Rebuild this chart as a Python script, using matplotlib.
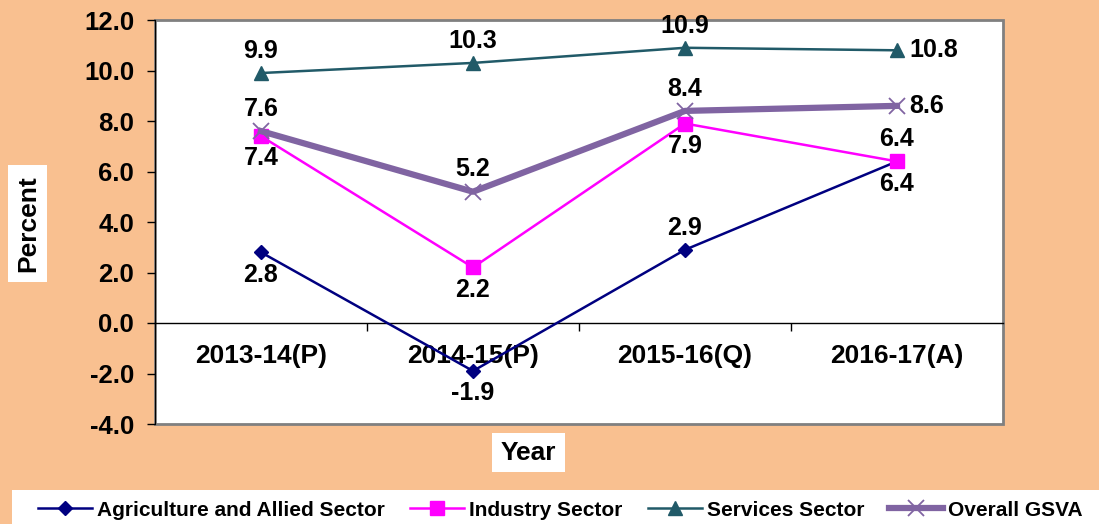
import matplotlib
matplotlib.use('Agg')
import matplotlib.pyplot as plt
from matplotlib.patches import Rectangle

# 数据
years = ['2013-14(P)', '2014-15(P)', '2015-16(Q)', '2016-17(A)']
agri = [2.8, -1.9, 2.9, 6.4]
industry = [7.4, 2.2, 7.9, 6.4]
services = [9.9, 10.3, 10.9, 10.8]
gsva = [7.6, 5.2, 8.4, 8.6]

# 标签位置: 'a' 上方, 'b' 下方, 'r' 右侧
agri_pos = ['b', 'b', 'a', 'b']
industry_pos = ['b', 'b', 'b', 'a']
services_pos = ['a', 'a', 'a', 'r']
gsva_pos = ['a', 'a', 'a', 'r']

plt.rcParams['font.family'] = ['Liberation Sans', 'DejaVu Sans']
plt.rcParams['font.weight'] = 'bold'

W, H = 1099, 524
bg = '#F9C090'
fig = plt.figure(figsize=(W / 100, H / 100), dpi=100, facecolor=bg)
ax = fig.add_axes([155 / W, 1 - 424 / H, 848 / W, 404 / H])
ax.set_facecolor('white')

x = list(range(len(years)))
series = [
    (agri, agri_pos, '#000080', 'D', 1.8, 7, 'Agriculture and Allied Sector'),
    (industry, industry_pos, '#FF00FF', 's', 1.8, 10, 'Industry Sector'),
    (services, services_pos, '#215A68', '^', 1.8, 9.5, 'Services Sector'),
    (gsva, gsva_pos, '#8064A2', 'x', 4.5, 12, 'Overall GSVA'),
]
for vals, pos, col, mk, lw, ms, name in series:
    ax.plot(x, vals, color=col, marker=mk, lw=lw, ms=ms, mew=1.3 if mk == 'x' else 1,
            label=name, zorder=3)
    for xi, v, p in zip(x, vals, pos):
        if p == 'a':
            off, ha = (0, 16), 'center'
        elif p == 'b':
            off, ha = (0, -16), 'center'
        else:
            off, ha = (9, 0), 'left'
        ax.annotate('%.1f' % v, (xi, v), xytext=off, textcoords='offset points',
                    ha=ha, va='center', fontsize=18, fontweight='bold', zorder=4)

ax.set_xlim(-0.5, 3.5)
ax.set_ylim(-4, 12)
ax.set_yticks(range(-4, 13, 2))
ax.set_yticklabels(['%.1f' % t for t in range(-4, 13, 2)], fontsize=18.5, fontweight='bold')
ax.tick_params(axis='y', direction='out', length=6, width=1, pad=9)

# x轴放在零线上
ax.spines['bottom'].set_position(('data', 0))
ax.spines['bottom'].set_linewidth(1)
ax.set_xticks(x)
ax.set_xticklabels(years, fontsize=19, fontweight='bold')
ax.set_xticks([0.5, 1.5, 2.5], minor=True)
ax.tick_params(axis='x', which='major', length=0, pad=15)
ax.tick_params(axis='x', which='minor', direction='out', length=6, width=1)
for s in ['top', 'right']:
    ax.spines[s].set_visible(False)
ax.add_patch(Rectangle((0, 0), 1, 1, transform=ax.transAxes, fill=False,
                       edgecolor='#808080', lw=2, clip_on=False, zorder=1))
ax.spines['left'].set_zorder(5)

# 轴标题白框
fig.patches.append(Rectangle((8 / W, 1 - 282 / H), 39 / W, 117 / H, transform=fig.transFigure,
                             facecolor='white', edgecolor='none'))
fig.text(28 / W, 1 - 224 / H, 'Percent', rotation=90, ha='center', va='center',
         fontsize=19, fontweight='bold')
fig.patches.append(Rectangle((492 / W, 1 - 472 / H), 73 / W, 39 / H, transform=fig.transFigure,
                             facecolor='white', edgecolor='none'))
fig.text(528.5 / W, 1 - 453 / H, 'Year', ha='center', va='center',
         fontsize=19, fontweight='bold')

# 图例白色底框
fig.patches.append(Rectangle((12 / W, 0), 1 - 12 / W, 34 / H, transform=fig.transFigure,
                             facecolor='white', edgecolor='none', zorder=0))
fig.legend(loc='center left', bbox_to_anchor=(38 / W, 1 - 510 / H), ncol=4,
           frameon=False, handlelength=2.6, handletextpad=0.24, columnspacing=1.2,
           borderpad=0, borderaxespad=0, prop={'weight': 'bold', 'size': 15})

fig.savefig('out.png', dpi=100, facecolor=bg)
